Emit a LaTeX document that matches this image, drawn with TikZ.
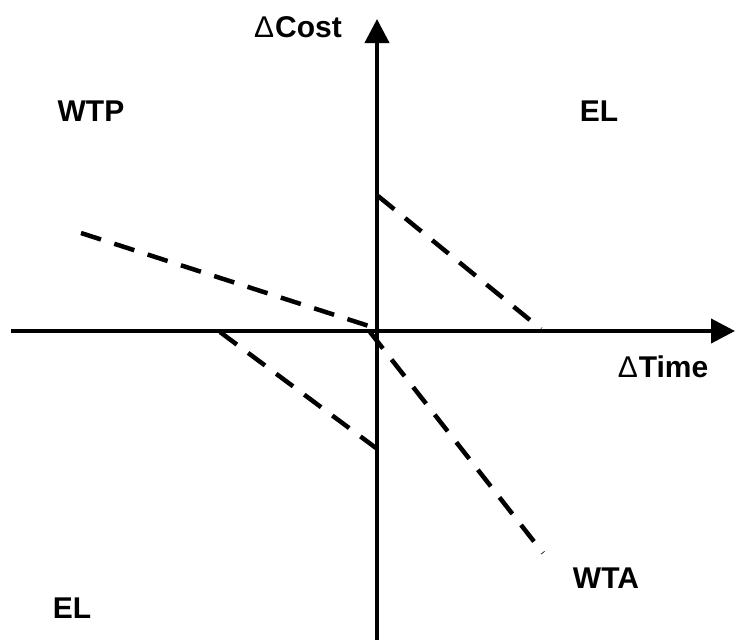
\documentclass[tikz,border=0pt]{standalone}
\usepackage{fontspec}
\setmainfont{Liberation Sans}
\usetikzlibrary{arrows.meta}
\newcommand{\dlt}{{\mdseries Δ}}
\begin{document}
\begin{tikzpicture}[x=1pt,y=-1pt,
  axis/.style={line width=4pt,-{Triangle[length=24pt,width=24pt]}},
  guide/.style={line width=4.5pt,dash pattern=on 21pt off 14pt},
  lbl/.style={font=\fontsize{30}{30}\selectfont\bfseries,inner sep=0pt}]
  \useasboundingbox (0,0) rectangle (735,640);
  % axes
  \coordinate (ybot) at (377,640);
  \coordinate (ytop) at (377,19);
  \coordinate (xleft) at (11,331);
  \coordinate (xright) at (735,331);
  \draw[axis] (ybot) -- (ytop);
  \draw[axis] (xleft) -- (xright);
  % dashed lines
  \coordinate (wtpA) at (81,233);
  \coordinate (wtpB) at (372,327);
  \coordinate (elA) at (378,196);
  \coordinate (elB) at (541,329);
  \coordinate (llA) at (220,332);
  \coordinate (llB) at (376,448);
  \coordinate (wtaA) at (370,332);
  \coordinate (wtaB) at (543,553);
  \draw[guide] (wtpA) -- (wtpB);
  \draw[guide] (elA) -- (elB);
  \draw[guide] (llA) -- (llB);
  \draw[guide] (wtaA) -- (wtaB);
  % labels
  \node[lbl] (cost) at (298,27) {\dlt\kern1ptCost};
  \node[lbl] (time) at (663,367) {\dlt\kern1ptTime};
  \node[lbl] (wtp) at (91,111) {WTP};
  \node[lbl] (elup) at (599,111) {EL};
  \node[lbl] (eldown) at (72,608) {EL};
  \node[lbl] (wta) at (606,578) {WTA};
\end{tikzpicture}
\end{document}
